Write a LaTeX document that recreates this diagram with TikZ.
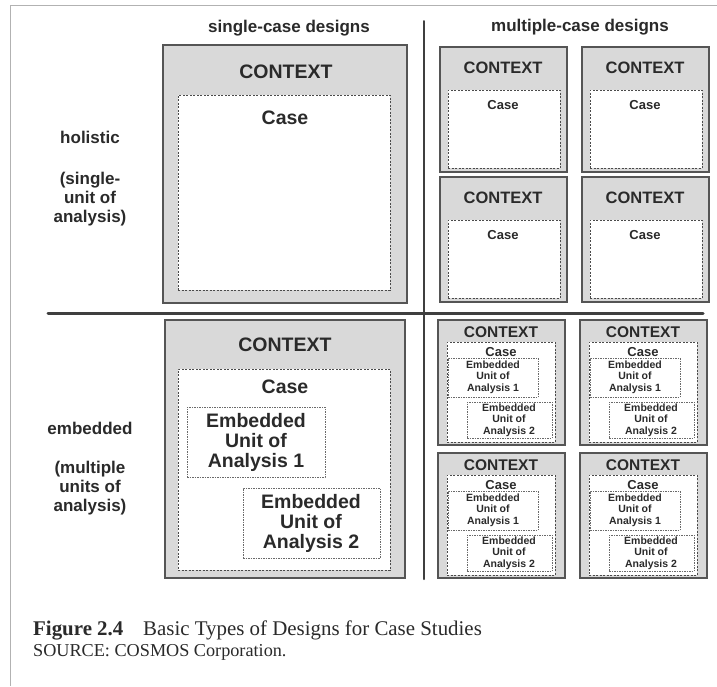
\documentclass[tikz,border=0pt]{standalone}
\usepackage{fontspec}
\setmainfont{Liberation Sans}
\newfontfamily\capfont{Liberation Serif}
\usetikzlibrary{fit}
\definecolor{ink}{HTML}{2A2A2A}
\definecolor{ctxfill}{HTML}{D9D9D9}
\tikzset{
  ctxbox/.style={draw=ink!80, line width=1.3pt, fill=ctxfill, inner sep=0pt},
  casebox/.style={draw=ink!85, dash pattern=on 2pt off 1.5pt, line width=1pt, fill=white, inner sep=0pt},
  embbox/.style={draw=ink!70, dash pattern=on 1.5pt off 1pt, line width=0.8pt, fill=white, inner sep=0pt},
  lbl/.style={text=ink, inner sep=0pt, align=center, font=\fontsize{17}{19}\selectfont\bfseries},
  bigtxt/.style={text=ink, inner sep=0pt, align=center, font=\fontsize{19.5}{20}\selectfont\bfseries},
  ctxs/.style={text=ink, inner sep=0pt, font=\fontsize{16.5}{18}\selectfont\bfseries},
  cases/.style={text=ink, inner sep=0pt, font=\fontsize{13}{14}\selectfont\bfseries},
  embs/.style={text=ink, inner sep=0pt, align=center, font=\fontsize{10.5}{11.5}\selectfont\bfseries},
  divider/.style={draw=ink!90, line cap=round}
}
\begin{document}
\begin{tikzpicture}[x=1pt,y=-1pt]
\useasboundingbox (0,0) rectangle (717,686);
\fill[white] (0,0) rectangle (717,686);
% page frame
\coordinate (fb) at (10,686);
\coordinate (ft) at (10,5);
\coordinate (fr) at (717,5);
\draw[gray!60, line width=0.8pt] (fb) -- (ft) -- (fr);

% headers
\node[lbl] (hsingle) at (289,28) {single-case designs};
\node[lbl] (hmulti) at (580,27) {multiple-case designs};

% row labels
\node[lbl] (lhol) at (90,137) {holistic};
\node[lbl] (lholsub) at (90,199) {(single-\\unit of\\analysis)};
\node[lbl] (lemb) at (90,428) {embedded};
\node[lbl] (lembsub) at (90,488) {(multiple\\units of\\analysis)};

% dividers
\coordinate (vt) at (424,21);
\coordinate (vb) at (424,579);
\coordinate (hl) at (48,313);
\coordinate (hr) at (703,313);
\draw[divider, line width=2pt] (vt) -- (vb);
\draw[divider, line width=3pt] (hl) -- (hr);

% single-case holistic
\node[ctxbox, fit={(163,45) (407,303)}] (shO) {};
\node[casebox, fit={(178,95) (390,290)}] (shC) {};
\node[bigtxt] (shCtx) at (286,72) {CONTEXT};
\node[bigtxt] (shCase) at (285,118) {Case};

% single-case embedded
\node[ctxbox, fit={(165,320) (405,578)}] (seO) {};
\node[casebox, fit={(178,369) (390,570)}] (seC) {};
\node[bigtxt] (seCtx) at (285,345) {CONTEXT};
\node[bigtxt] (seCase) at (285,387) {Case};
\node[embbox, fit={(187,407) (325,477)}] (seE1) {};
\node[bigtxt] (seE1t) at (256,442) {Embedded\\Unit of\\Analysis 1};
\node[embbox, fit={(243,488) (380,558)}] (seE2) {};
\node[bigtxt] (seE2t) at (311,523) {Embedded\\Unit of\\Analysis 2};

% multiple-case holistic
\foreach \ox/\oy/\n in {440/47/1, 582/47/2, 440/177/3, 582/177/4}{
  \node[ctxbox, fit={(\ox,\oy) (\ox+127,\oy+125)}] (mhO\n) {};
  \node[casebox, fit={(\ox+8,\oy+43) (\ox+120,\oy+121)}] (mhC\n) {};
  \node[ctxs] (mhCtx\n) at (\ox+63,\oy+21) {CONTEXT};
  \node[cases] (mhCase\n) at (\ox+63,\oy+58) {Case};
}

% multiple-case embedded
\foreach \ox/\oy/\n in {438/320/1, 580/320/2, 438/453/3, 580/453/4}{
  \node[ctxbox, fit={(\ox,\oy) (\ox+127,\oy+125)}] (meO\n) {};
  \node[casebox, fit={(\ox+9,\oy+22) (\ox+117,\oy+122)}] (meC\n) {};
  \node[ctxs, font=\fontsize{15.5}{17}\selectfont\bfseries] (meCtx\n) at (\ox+63,\oy+12) {CONTEXT};
  \node[cases] (meCase\n) at (\ox+63,\oy+32) {Case};
  \node[embbox, fit={(\ox+10,\oy+38) (\ox+100,\oy+77)}] (meE1\n) {};
  \node[embs] (meE1t\n) at (\ox+55,\oy+57) {Embedded\\Unit of\\Analysis 1};
  \node[embbox, fit={(\ox+29,\oy+82) (\ox+114,\oy+118)}] (meE2\n) {};
  \node[embs] (meE2t\n) at (\ox+71,\oy+100) {Embedded\\Unit of\\Analysis 2};
}

% caption
\node[anchor=base west, inner sep=0pt, text=ink, font=\capfont\fontsize{20.9}{22}\selectfont\bfseries] (capfig) at (33,635) {Figure 2.4};
\node[anchor=base west, inner sep=0pt, text=ink, font=\capfont\fontsize{20.9}{22}\selectfont] (captxt) at (143,635) {Basic Types of Designs for Case Studies};
\node[anchor=base west, inner sep=0pt, text=ink, font=\capfont\fontsize{18.2}{20}\selectfont] (capsrc) at (33,656) {SOURCE: COSMOS Corporation.};
\end{tikzpicture}
\end{document}
